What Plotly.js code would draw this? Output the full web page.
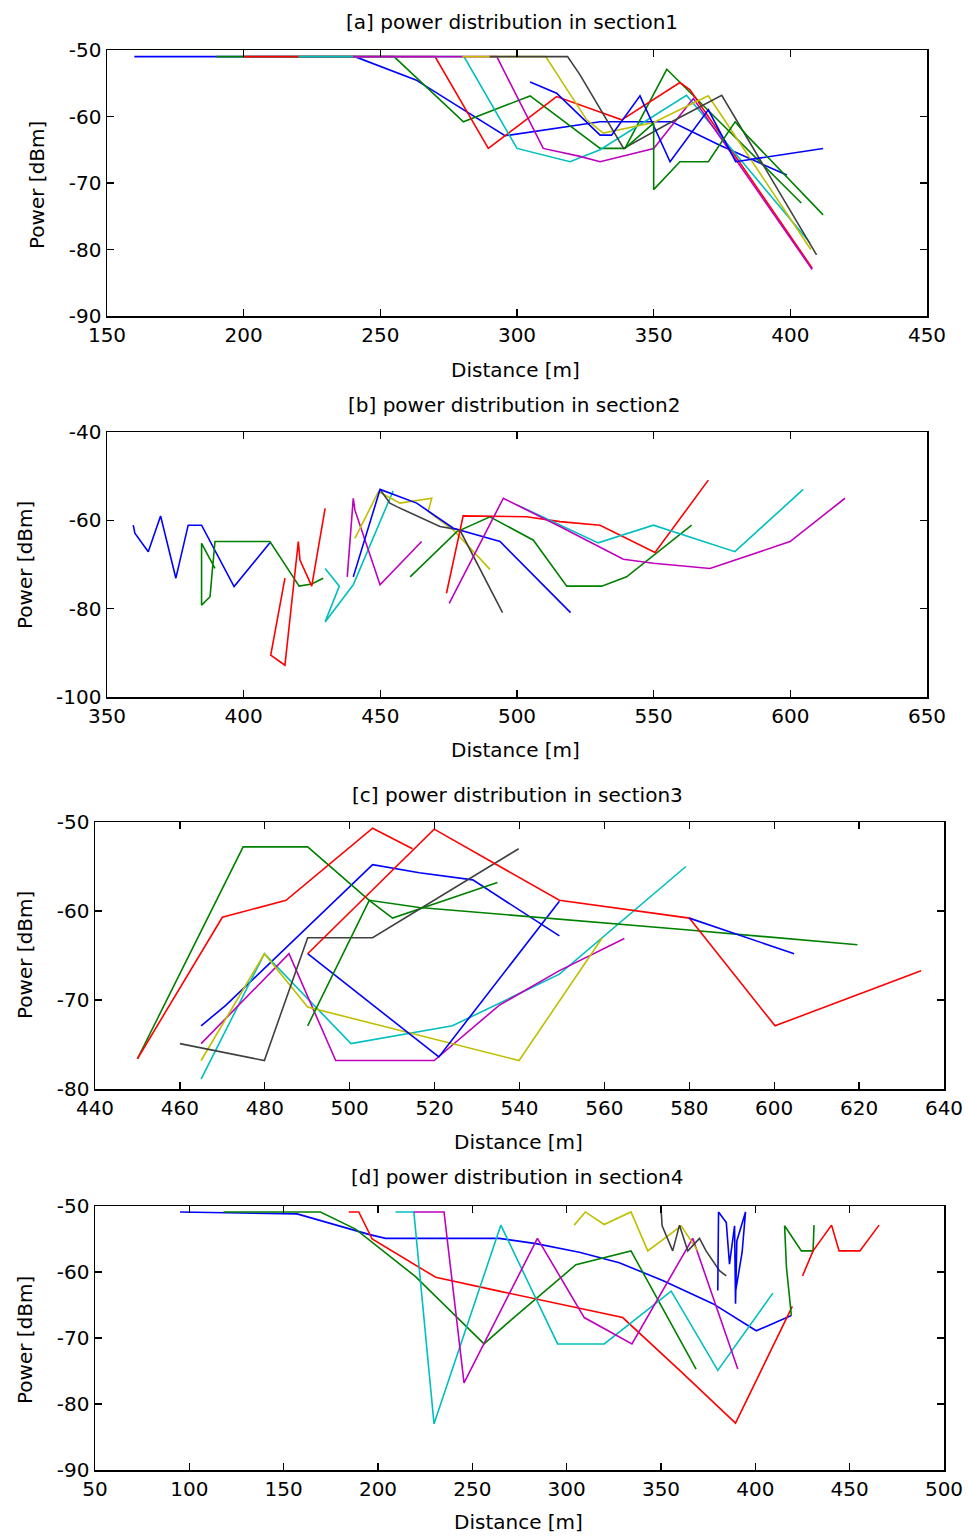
<!DOCTYPE html>
<html>
<head>
<meta charset="utf-8">
<script src="https://cdn.plot.ly/plotly-3.0.1.min.js"></script>
<style>html,body{margin:0;padding:0;background:#fff}#chart{width:969px;height:1536px}</style>
</head>
<body>
<div id="chart"></div>
<script>
// ---------- section 1 ----------
const aBlue1X = [160,240.7,263,295.6,330.4,356.6,374,398.7];
const aBlue1Y = [-51,-51,-54.5,-62.9,-60.8,-60.8,-64.3,-68.8];
const aGreen1X = [190,255,280.4,304.8,330.4,339.5,354.8,404];
const aGreen1Y = [-51,-51,-60.8,-56.9,-64.8,-64.8,-52.9,-73];
const aRed1X = [200,270,289.5,314.5,338.3,359.6,363.3,408];
const aRed1Y = [-51,-51,-64.8,-57,-60.5,-54.9,-56,-82.8];
const aCyan1X = [220,280.6,300,319.4,330.4,362,407.2];
const aCyan1Y = [-51,-51,-64.8,-66.8,-65,-56.8,-79];
const aMag1X = [240,292.6,309.6,323,330.4,350,364.5,408];
const aMag1Y = [-51,-51,-64.8,-66,-66.8,-64.8,-57.3,-83];
const aYel1X = [280,310.5,325.5,331.6,350,370,407.5];
const aYel1Y = [-51,-51,-60.5,-62.5,-60.9,-56.9,-80];
const aGray1X = [290,318.5,323,339,356.6,374.9,409.6];
const aGray1Y = [-51,-51,-53.7,-64.8,-60.8,-56.8,-80.8];
const aBlue2X = [304.8,314.5,330.4,334.6,345,356,370,380,412];
const aBlue2Y = [-54.8,-56.5,-62.8,-62.8,-56.9,-66.8,-59,-66.8,-64.8];
const aGreen2X = [339.5,350,350,359.6,370,379.8,384,412];
const aGreen2Y = [-64.8,-61,-71,-66.8,-66.8,-60.8,-62.8,-74.8];

// ---------- section 2 ----------
const bBlue1X = [359.6,360.2,365.1,369.6,375.2,379.7,384.6,389.5,396.5,409.6];
const bBlue1Y = [-61.1,-62.9,-67.1,-59,-73.1,-61.1,-61.1,-66.7,-75,-65.1];
const bGreen1X = [389.5,384.6,384.6,387.7,388.6,389.5,409.6,418.2,420.3,424.9,429.1];
const bGreen1Y = [-70.9,-65.2,-79.2,-77.3,-70.9,-64.8,-64.8,-72.8,-74.9,-74.4,-73.1];
const bRed1X = [415.1,409.9,415.1,420,420.6,424.9,429.8];
const bRed1Y = [-73.1,-90.5,-92.8,-64.8,-69,-74.9,-57.3];
const bCyan1X = [429.8,435,429.8,440.1,454.7];
const bCyan1Y = [-70.9,-74.9,-83,-74.6,-53.3];
const bMag1X = [437.9,439.1,440.1,440.7,449.9,465.1];
const bMag1Y = [-72.8,-63.7,-55,-57.7,-74.6,-64.8];
const bYel1X = [440.7,449.3,457.2,468.8,467.5,476.7,490.1];
const bYel1Y = [-64.1,-53.5,-56.1,-55,-58,-62.2,-71.1];
const bGray1X = [449.9,453.5,456,471.8,479.1,494.7];
const bGray1Y = [-53,-56.1,-56.9,-61.4,-62.2,-80.9];
const bBlue2X = [440.1,449.9,463.3,476.7,493.8,507.2,519.6];
const bBlue2Y = [-72.8,-53,-56.1,-61.8,-64.8,-73.1,-80.9];
const bGreen2X = [460.9,477.9,490.1,506,518.2,531,540.1,563.9];
const bGreen2Y = [-72.8,-62.6,-59.2,-64.5,-74.9,-74.9,-72.8,-61.1];
const bRed2X = [474.2,480.3,503.5,515.7,530.4,550.5,570];
const bRed2Y = [-76.5,-59,-59.2,-60.3,-61.1,-67.3,-50.9];
const bCyan2X = [500,515.7,529.7,549.9,579.7,604.7];
const bCyan2Y = [-56.5,-61.1,-65.1,-61.1,-67.1,-53];
const bMag2X = [475.2,495,515.7,538.9,549.9,570.6,599.9,620];
const bMag2Y = [-78.8,-55,-61.4,-68.8,-69.7,-70.9,-64.8,-55];

// ---------- section 3 ----------
const cBlue1X = [465,470.8,505.4,516.4,529,549.4];
const cBlue1Y = [-72.9,-70.6,-54.8,-55.7,-56.5,-62.8];
const cGreen1X = [450,474.9,490.1,504.6,510.1,534.8];
const cGreen1Y = [-76.6,-52.8,-52.8,-58.8,-60.8,-56.8];
const cRed1X = [450,470,485,505.4,514.8];
const cRed1Y = [-76.6,-60.7,-58.8,-50.7,-53];
const cCyan1X = [465,479.9,500.3,524.2,549.4,579.2];
const cCyan1Y = [-78.9,-64.8,-74.9,-72.9,-67.1,-55];
const cMag1X = [465,485.7,496.7,519.9,535.2,549.4,564.7];
const cMag1Y = [-74.9,-64.8,-76.8,-76.8,-70.6,-66.7,-63.1];
const cYel1X = [465,479.9,490.1,539.9,559.5];
const cYel1Y = [-76.8,-64.8,-70.8,-76.8,-63];
const cGray1X = [460,479.9,490.1,505.4,539.8];
const cGray1Y = [-74.9,-76.8,-63,-63,-53];
const cBlue2X = [490.1,521,549.4];
const cBlue2Y = [-64.8,-76.4,-58.9];
const cGreen2X = [490.1,504.6,516.4,579.2,619.6];
const cGreen2Y = [-72.9,-58.8,-59.6,-62.1,-63.8];
const cRed2X = [490.1,519.9,549.4,580,600.2,634.6];
const cRed2Y = [-64.8,-50.8,-58.8,-60.8,-72.9,-66.7];
const cBlue3X = [580,604.7];
const cBlue3Y = [-60.8,-64.8];

// ---------- section 4 ----------
const dBlue1X = [95.1,157.1,195.1,204,264.2,283.7,306.7,327.9,350.9,377.5,400.5,419.1];
const dBlue1Y = [-50.9,-51.2,-54.3,-54.9,-54.9,-55.7,-57,-58.6,-61.3,-64.8,-68.9,-66.6];
const dGreen1X = [118.1,169.5,188.1,219.9,256.2,271.2,304.9,334.1,368.6];
const dGreen1Y = [-50.9,-50.9,-53.5,-60.7,-70.9,-67.1,-58.9,-56.8,-74.7];
const dRed1X = [184.5,189.8,196.9,230.6,264.2,329.7,359.9,389.5,419.6];
const dRed1Y = [-50.9,-50.9,-55,-60.8,-62.9,-66.9,-74.9,-82.9,-65.2];
const dCyan1X = [209.3,219,229.7,265.1,295.2,319.9,355.4,380.1,409.3];
const dCyan1Y = [-50.9,-50.9,-83,-52.9,-70.9,-70.9,-62.9,-74.9,-63.2];
const dMag1X = [219,235,245.6,284.5,309.3,334.6,366.8,390.7];
const dMag1Y = [-50.9,-50.9,-76.8,-54.9,-66.9,-70.9,-54.9,-74.7];
const dYel1X = [304,309.9,319.9,334.1,343,360.7,369.5];
const dYel1Y = [-52.9,-50.9,-52.8,-50.9,-56.8,-53,-56.8];
const dGray1X = [350,350.6,356.2,359.8,364.2,370.4,373.9,381,384.6];
const dGray1Y = [-50.3,-53,-56.8,-52.9,-56.8,-54.9,-56.8,-59.8,-60.6];
const dBlue2X = [380.1,380.5,384.6,386.3,389,389.5,390.2,394.8,393,389.5];
const dBlue2Y = [-62.8,-50.9,-52.5,-58.8,-53,-64.8,-55.3,-50.9,-57,-63];
const dGreen2X = [419.1,416.5,415.5,424.4,430.6,431.1];
const dGreen2Y = [-66.6,-59.3,-53,-56.8,-56.8,-52.9];
const dRed2X = [425,430.6,440.4,444.4,455.4,465.6];
const dRed2Y = [-60.6,-56.8,-52.9,-56.8,-56.8,-52.9];

// ---------- ticks ----------
const aXTicks = [150,200,250,300,350,400,450];
const aYTicks = [-90,-80,-70,-60,-50];
const bXTicks = [350,400,450,500,550,600,650];
const bYTicks = [-100,-80,-60,-40];
const cXTicks = [440,460,480,500,520,540,560,580,600,620,640];
const cYTicks = [-80,-70,-60,-50];
const dXTicks = [50,100,150,200,250,300,350,400,450,500];
const dYTicks = [-90,-80,-70,-60,-50];

// ---------- text ----------
const panelTitles = ['[a] power distribution in section1','[b] power distribution in section2','[c] power distribution in section3','[d] power distribution in section4'];
const xLabel = 'Distance [m]';
const yLabel = 'Power [dBm]';

const COL = {b:'#0000FF', g:'#008000', r:'#FF0000', c:'#00BFBF', m:'#BF00BF', y:'#BFBF00', k:'#404040'};

const traces = [];
function add(x, y, col, ax) {
  traces.push({x: x, y: y, type: 'scatter', mode: 'lines',
    line: {color: COL[col], width: 1.6}, xaxis: 'x' + ax, yaxis: 'y' + ax,
    hoverinfo: 'skip', showlegend: false});
}
add(aBlue1X,aBlue1Y,'b',''); add(aGreen1X,aGreen1Y,'g',''); add(aRed1X,aRed1Y,'r','');
add(aCyan1X,aCyan1Y,'c',''); add(aMag1X,aMag1Y,'m',''); add(aYel1X,aYel1Y,'y','');
add(aGray1X,aGray1Y,'k',''); add(aBlue2X,aBlue2Y,'b',''); add(aGreen2X,aGreen2Y,'g','');

add(bBlue1X,bBlue1Y,'b','2'); add(bGreen1X,bGreen1Y,'g','2'); add(bRed1X,bRed1Y,'r','2');
add(bCyan1X,bCyan1Y,'c','2'); add(bMag1X,bMag1Y,'m','2'); add(bYel1X,bYel1Y,'y','2');
add(bGray1X,bGray1Y,'k','2'); add(bBlue2X,bBlue2Y,'b','2'); add(bGreen2X,bGreen2Y,'g','2');
add(bRed2X,bRed2Y,'r','2'); add(bCyan2X,bCyan2Y,'c','2'); add(bMag2X,bMag2Y,'m','2');

add(cBlue1X,cBlue1Y,'b','3'); add(cGreen1X,cGreen1Y,'g','3'); add(cRed1X,cRed1Y,'r','3');
add(cCyan1X,cCyan1Y,'c','3'); add(cMag1X,cMag1Y,'m','3'); add(cYel1X,cYel1Y,'y','3');
add(cGray1X,cGray1Y,'k','3'); add(cBlue2X,cBlue2Y,'b','3'); add(cGreen2X,cGreen2Y,'g','3');
add(cRed2X,cRed2Y,'r','3'); add(cBlue3X,cBlue3Y,'b','3');

add(dBlue1X,dBlue1Y,'b','4'); add(dGreen1X,dGreen1Y,'g','4'); add(dRed1X,dRed1Y,'r','4');
add(dCyan1X,dCyan1Y,'c','4'); add(dMag1X,dMag1Y,'m','4'); add(dYel1X,dYel1Y,'y','4');
add(dGray1X,dGray1Y,'k','4'); add(dBlue2X,dBlue2Y,'b','4'); add(dGreen2X,dGreen2Y,'g','4');
add(dRed2X,dRed2Y,'r','4');

const W = 969, H = 1536;
const FONT = {family: 'DejaVu Sans, Arial, sans-serif', size: 20, color: '#000'};
function px(x) { return x / W; }
function py(y) { return 1 - y / H; }
function ax(range, ticks) {
  return {range: range, tickmode: 'array', tickvals: ticks,
    ticktext: ticks.map(function(v){ return String(v); }),
    showgrid: false, zeroline: false, showline: true, linecolor: '#000', linewidth: 1.5,
    mirror: 'ticks', ticks: 'inside', ticklen: 7, tickwidth: 1.3, tickcolor: '#000',
    tickfont: FONT, fixedrange: true};
}
const axSpec = [
  {l:107, r:927, t:50, b:316, xr:[150,450], xt:aXTicks, yr:[-90,-50], yt:aYTicks},
  {l:107, r:927, t:432, b:697, xr:[350,650], xt:bXTicks, yr:[-100,-40], yt:bYTicks},
  {l:95, r:944, t:822, b:1089, xr:[440,640], xt:cXTicks, yr:[-80,-50], yt:cYTicks},
  {l:95, r:944, t:1206, b:1470, xr:[50,500], xt:dXTicks, yr:[-90,-50], yt:dYTicks}
];
const layout = {width: W, height: H, margin: {l:0, r:0, t:0, b:0},
  paper_bgcolor: '#fff', plot_bgcolor: '#fff', font: FONT, showlegend: false, annotations: []};
const titlePos = [
  {tx:512, ty:22, xx:515, xy:370, yx:37, yy:185},
  {tx:514, ty:405, xx:515, xy:750, yx:25, yy:565},
  {tx:517, ty:795, xx:518, xy:1142, yx:25, yy:955},
  {tx:517, ty:1177, xx:518, xy:1522, yx:25, yy:1340}
];
axSpec.forEach(function(s, i) {
  const sfx = i === 0 ? '' : String(i + 1);
  const X = ax(s.xr, s.xt);
  X.domain = [px(s.l), px(s.r)];
  X.anchor = 'y' + sfx;
  const Y = ax(s.yr, s.yt);
  Y.domain = [py(s.b), py(s.t)];
  Y.anchor = 'x' + sfx;
  layout['xaxis' + sfx] = X;
  layout['yaxis' + sfx] = Y;
  const p = titlePos[i];
  layout.annotations.push({text: panelTitles[i], xref:'paper', yref:'paper', x: px(p.tx), y: py(p.ty),
    showarrow:false, xanchor:'center', yanchor:'middle', font: FONT});
  layout.annotations.push({text: xLabel, xref:'paper', yref:'paper', x: px(p.xx), y: py(p.xy),
    showarrow:false, xanchor:'center', yanchor:'middle', font: FONT});
  layout.annotations.push({text: yLabel, xref:'paper', yref:'paper', x: px(p.yx), y: py(p.yy),
    showarrow:false, xanchor:'center', yanchor:'middle', textangle:-90, font: FONT});
});
Plotly.newPlot('chart', traces, layout, {staticPlot: true, displayModeBar: false});
</script>
</body>
</html>
